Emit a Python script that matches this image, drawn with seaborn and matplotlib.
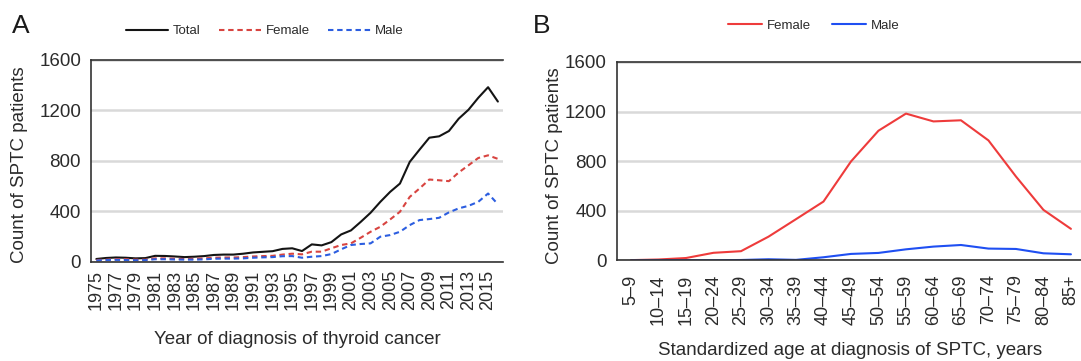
import numpy as np
import pandas as pd
import matplotlib
matplotlib.use("Agg")
import matplotlib.pyplot as plt
from matplotlib.ticker import FixedLocator
import seaborn as sns

# ---------------- data ----------------
years = list(range(1975, 2017))
total = [20, 28, 32, 30, 25, 27, 45, 44, 40, 35, 38, 43, 52, 55, 55, 62, 72, 77, 82, 100, 105,
         83, 136, 128, 154, 215, 247, 315, 387, 474, 553, 619, 791, 888, 983, 994, 1036, 1134,
         1205, 1300, 1384, 1270]
female_a = [12, 15, 18, 18, 15, 15, 25, 25, 22, 20, 22, 25, 30, 32, 32, 35, 40, 43, 45, 55, 62,
            57, 78, 78, 105, 131, 144, 189, 236, 276, 334, 395, 513, 580, 651, 645, 638, 707,
            764, 822, 843, 815]
male_a = [8, 12, 13, 12, 10, 11, 18, 18, 16, 15, 15, 17, 22, 23, 23, 25, 30, 33, 35, 42, 43,
          30, 38, 43, 59, 97, 131, 139, 144, 197, 210, 236, 289, 329, 337, 347, 390, 422,
          442, 474, 540, 455]

age_groups = ["5–9", "10–14", "15–19", "20–24", "25–29", "30–34", "35–39", "40–44", "45–49",
              "50–54", "55–59", "60–64", "65–69", "70–74", "75–79", "80–84", "85+"]
female_b = [3, 8, 20, 62, 75, 192, 333, 475, 798, 1046, 1184, 1121, 1130, 968, 677, 408, 255]
male_b = [0, 2, 3, 2, 4, 10, 5, 26, 53, 61, 90, 112, 125, 96, 93, 58, 50]

y_ticks = [0, 400, 800, 1200, 1600]

# ---------------- style ----------------
sns.set_style("white")
plt.rcParams['font.family'] = ['Liberation Sans', 'DejaVu Sans']
TXT = "#2b2b2b"
AX = "#333333"
GRID = "#d9d9d9"

fig = plt.figure(figsize=(10.81, 3.61), dpi=100)
axA = fig.add_axes([0.0846, 0.2756, 0.3805, 0.5582])
axB = fig.add_axes([0.571, 0.2784, 0.4324, 0.5499])

# ---------------- panel A ----------------
dfA = pd.DataFrame({
    "Year": years * 3,
    "Count": total + female_a + male_a,
    "Series": ["Total"] * len(years) + ["Female"] * len(years) + ["Male"] * len(years),
})
palA = {"Total": "#141414", "Female": "#d84440", "Male": "#2c5ee0"}
dashA = {"Total": "", "Female": (2.6, 1.8), "Male": (2.6, 1.8)}
sns.lineplot(data=dfA, x="Year", y="Count", hue="Series", style="Series",
             hue_order=["Total", "Female", "Male"], palette=palA, dashes=dashA,
             linewidth=1.5, ax=axA, legend=False)

axA.set_xlim(years[0] - 0.5, years[-1] + 0.5)
axA.xaxis.set_major_locator(FixedLocator(years[::2]))
axA.set_xticklabels([str(y) for y in years[::2]], rotation=90)
axA.xaxis.set_minor_locator(FixedLocator(np.arange(years[0] - 0.5, years[-1] + 1.0, 1.0)))
axA.tick_params(axis="x", which="major", length=0, pad=6, labelsize=13, colors=TXT)
axA.tick_params(axis="x", which="minor", length=6, width=1, color=AX, direction="out")

# ---------------- panel B ----------------
dfB = pd.DataFrame({
    "Age": age_groups * 2,
    "Count": female_b + male_b,
    "Sex": ["Female"] * len(age_groups) + ["Male"] * len(age_groups),
})
palB = {"Female": "#ee3b3b", "Male": "#1f4ff2"}
sns.lineplot(data=dfB, x="Age", y="Count", hue="Sex", hue_order=["Female", "Male"],
             palette=palB, linewidth=1.5, sort=False, ax=axB, legend=False)
n = len(age_groups)
axB.set_xlim(-0.5, n - 0.5)
axB.xaxis.set_major_locator(FixedLocator(range(n)))
axB.set_xticklabels(age_groups, rotation=90)
axB.xaxis.set_minor_locator(FixedLocator(np.arange(-0.5, n, 1.0)))
axB.tick_params(axis="x", which="major", length=0, pad=10, labelsize=13, colors=TXT)
axB.tick_params(axis="x", which="minor", length=6, width=1, color=AX, direction="out")

# ---------------- common formatting ----------------
for ax in (axA, axB):
    ax.set_ylim(0, 1600)
    ax.set_yticks(y_ticks)
    ax.set_yticklabels([str(v) for v in y_ticks])
    ax.tick_params(axis="y", length=6, width=1, color=AX, direction="out", pad=1.5,
                   labelsize=13.5, colors=TXT)
    ax.set_axisbelow(True)
    ax.yaxis.grid(True, color=GRID, linewidth=1.8)
    ax.xaxis.grid(False)
    for s in ("left", "bottom", "top"):
        ax.spines[s].set_visible(True)
        ax.spines[s].set_color(AX)
        ax.spines[s].set_linewidth(1.2)
    ax.spines["right"].set_visible(False)
    ax.set_ylabel("Count of SPTC patients", fontsize=13.5, color=TXT)

axA.set_xlabel("Year of diagnosis of thyroid cancer", fontsize=13.5, color=TXT)
axB.set_xlabel("Standardized age at diagnosis of SPTC, years", fontsize=13.5, color=TXT)
axA.yaxis.set_label_coords(-0.154, 0.48)
axB.yaxis.set_label_coords(-0.116, 0.48)
axA.xaxis.set_label_coords(0.5, -0.345)
axB.xaxis.set_label_coords(0.498, -0.412)
axA.xaxis.label.set_va("top")
axB.xaxis.label.set_va("top")

# ---------------- legends ----------------
hA = axA.get_lines()[:3]
fig.legend(hA, ["Total", "Female", "Male"], loc="center", bbox_to_anchor=(0.245, 0.914),
           ncol=3, frameon=False, fontsize=9.5, handlelength=3.2, handletextpad=0.35,
           columnspacing=1.4, labelcolor=TXT)
hB = axB.get_lines()[:2]
fig.legend(hB, ["Female", "Male"], loc="center", bbox_to_anchor=(0.7525, 0.928),
           ncol=2, frameon=False, fontsize=9.5, handlelength=2.6, handletextpad=0.35,
           columnspacing=1.6, labelcolor=TXT)

# ---------------- panel letters ----------------
fig.text(0.011, 0.9094, "A", fontsize=19, color="#1a1a1a", va="baseline", ha="left")
fig.text(0.4925, 0.9094, "B", fontsize=19, color="#1a1a1a", va="baseline", ha="left")

fig.savefig("out.png", dpi=100)
